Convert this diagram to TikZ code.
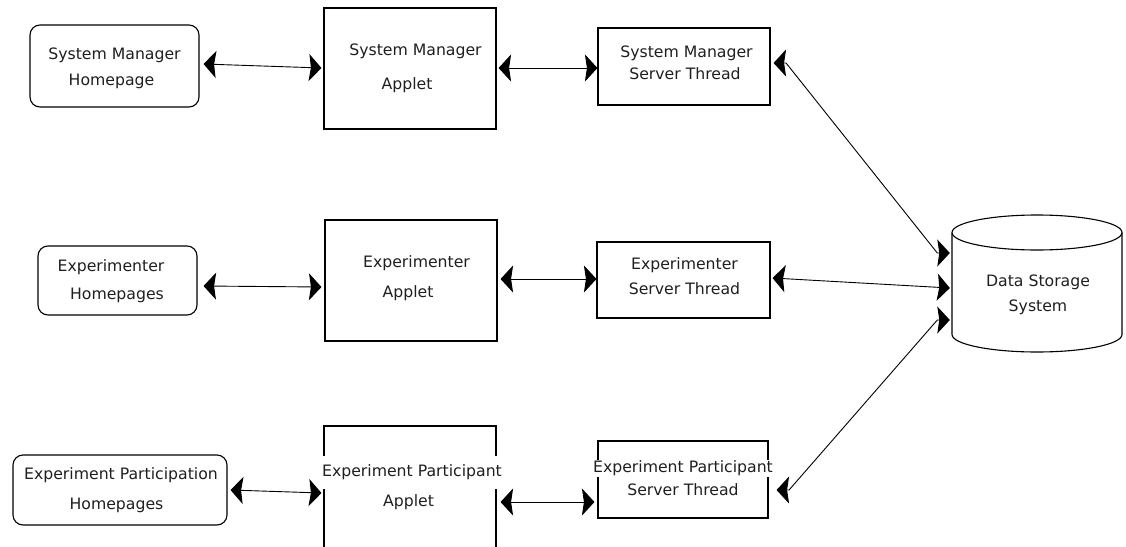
\documentclass[tikz,border=0pt]{standalone}
\usepackage{fontspec}
\setmainfont{DejaVu Sans}
\usetikzlibrary{arrows.meta}

\tikzset{
  box/.style={draw=black, line width=1.1pt, inner sep=0pt},
  homebox/.style={box, rounded corners=10pt},
  lbl/.style={inner sep=0pt, text height=11.6pt, text depth=3.4pt,
    font=\fontsize{15.7}{18}\selectfont, text=black!88},
  cover/.style={lbl, fill=white, inner xsep=0pt},
  headtip/.tip={Stealth[length=12.5pt,width=27pt,inset=2pt]},
  link/.style={line width=0.9pt, headtip-headtip},
}

\begin{document}
\begin{tikzpicture}[x=1pt, y=1pt]
\clip (0,0) rectangle (1126,-546);
\useasboundingbox (0,0) rectangle (1126,-546);

% client home pages
\node[homebox, minimum width=169pt, minimum height=82pt] (smh) at (114.5,-66) {};
\node[homebox, minimum width=159pt, minimum height=69pt] (eh) at (117.5,-280.5) {};
\node[homebox, minimum width=214pt, minimum height=70pt] (eph) at (120,-490) {};

% applets
\node[box, minimum width=172pt, minimum height=121pt] (sma) at (410,-68.5) {};
\node[box, minimum width=172pt, minimum height=121pt] (ea) at (411,-280.5) {};
\node[box, minimum width=172pt, minimum height=160pt] (epa) at (410,-506) {};

% server threads
\node[box, minimum width=172pt, minimum height=77pt] (sms) at (684,-66.5) {};
\node[box, minimum width=173pt, minimum height=76pt] (es) at (683.5,-280) {};
\node[box, minimum width=170pt, minimum height=77pt] (eps) at (683,-479.5) {};

% data storage cylinder
\node[minimum width=170pt, minimum height=137pt, inner sep=0pt] (db) at (1037,-283.5) {};
\draw[line width=1.1pt] (1037,-232.5) ellipse[x radius=85pt, y radius=17.5pt];
\draw[line width=1.1pt] (952,-232.5) -- (952,-334.5)
  arc[start angle=180, end angle=360, x radius=85pt, y radius=17.5pt]
  -- (1122,-232.5);

% labels
\node[lbl] (smh1) at (114.5,-55) {System Manager};
\node[lbl] (smh2) at (111.5,-81) {Homepage};
\node[lbl] (sma1) at (415.5,-51) {System Manager};
\node[lbl] (sma2) at (407,-85) {Applet};
\node[lbl] (sms1) at (686.5,-53) {System Manager};
\node[lbl] (sms2) at (685,-75) {Server Thread};

\node[lbl] (eh1) at (111,-267) {Experimenter};
\node[lbl] (eh2) at (117,-295) {Homepages};
\node[lbl] (ea1) at (416.5,-263) {Experimenter};
\node[lbl] (ea2) at (408,-293) {Applet};
\node[lbl] (es1) at (684.5,-265) {Experimenter};
\node[lbl] (es2) at (684.5,-290) {Server Thread};

\node[lbl] (db1) at (1038,-282) {Data Storage};
\node[lbl] (db2) at (1038,-307) {System};

\node[lbl] (eph1) at (121,-475) {Experiment Participation};
\node[lbl] (eph2) at (116.5,-505) {Homepages};
\node[cover, inner ysep=9pt] (epa1) at (412,-472) {Experiment Participant};
\node[lbl] (epa2) at (408.5,-502) {Applet};
\node[cover, inner ysep=1pt] (eps1) at (683,-468) {Experiment Participant};
\node[lbl] (eps2) at (683,-491) {Server Thread};

% connectors (tips always point horizontally)
\draw[link] ([shift={(4,2)}]smh.east) -- ([shift={(-2,0.5)}]sma.west);
\draw[link] ([shift={(2,0.5)}]sma.east) -- ([shift={(0,-1.5)}]sms.west);
\draw[link] ([shift={(3,3.5)}]sms.east) -- ([shift={(15.5,3.5)}]sms.east)
  -- ([shift={(-14.5,30.5)}]db.west) -- ([shift={(-2,30.5)}]db.west);

\draw[link] ([shift={(6,-5.5)}]eh.east) -- ([shift={(-3,-6.5)}]ea.west);
\draw[link] ([shift={(3,1.5)}]ea.east) -- ([shift={(0,1)}]es.west);
\draw[link] ([shift={(2,2)}]es.east) -- ([shift={(-2,-4.5)}]db.west);

\draw[link] ([shift={(3,0)}]eph.east) -- ([shift={(-2,13)}]epa.west);
\draw[link] ([shift={(4,4)}]epa.east) -- ([shift={(-3,-22.5)}]eps.west);
\draw[link] ([shift={(8,-10.5)}]eps.east) -- ([shift={(20.5,-10.5)}]eps.east)
  -- ([shift={(-14.5,-36.5)}]db.west) -- ([shift={(-2,-36.5)}]db.west);
\end{tikzpicture}
\end{document}
